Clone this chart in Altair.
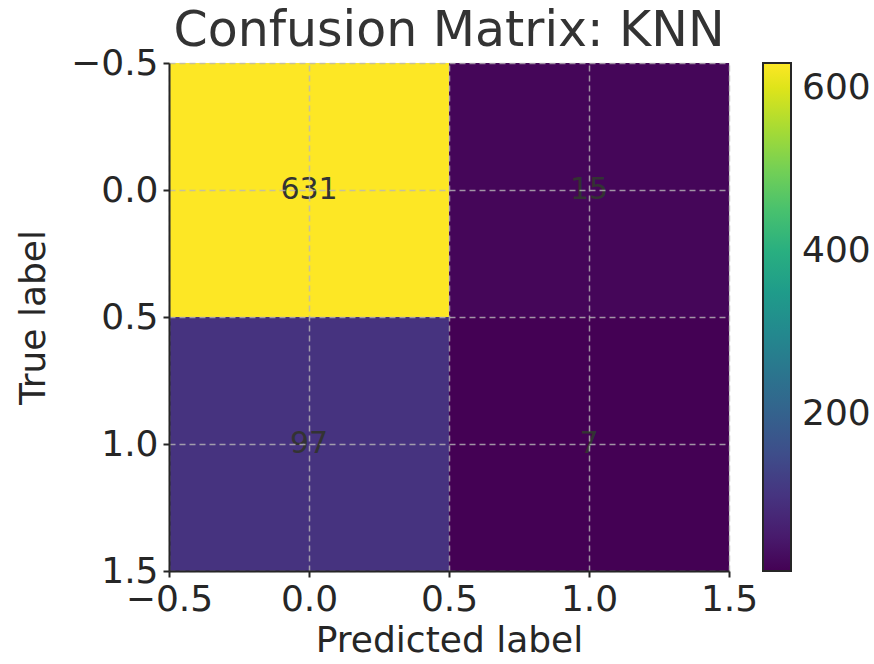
import altair as alt
import pandas as pd

# Confusion matrix values (rows = true label, columns = predicted label)
true_idx = [0, 0, 1, 1]
pred_idx = [0, 1, 0, 1]
counts = [631, 15, 97, 7]
axis_ticks = [-0.5, 0.0, 0.5, 1.0, 1.5]
cbar_ticks = [200, 400, 600]

df = pd.DataFrame({"true": true_idx, "pred": pred_idx, "count": counts})

FONT = "DejaVu Sans"
DARK = "#262626"
LBL = 36

xscale = alt.Scale(domain=[-0.5, 1.5], nice=False, zero=False)
yscale = alt.Scale(domain=[-0.5, 1.5], nice=False, zero=False, reverse=True)

axis_common = dict(
    values=axis_ticks,
    format=".1f",
    labelFontSize=LBL,
    titleFontSize=LBL,
    labelFont=FONT,
    titleFont=FONT,
    labelColor=DARK,
    titleColor=DARK,
    titleFontWeight="normal",
    tickColor=DARK,
    tickSize=6,
    tickWidth=2,
    domainColor=DARK,
    domainWidth=2,
    grid=True,
    gridColor="#b8b8b8",
    gridOpacity=0.8,
    gridWidth=1.5,
    gridDash=[6, 4],
    labelPadding=5,
    zindex=1,
)

base = alt.Chart(df).transform_calculate(
    x0="datum.pred - 0.5",
    x1="datum.pred + 0.5",
    y0="datum.true - 0.5",
    y1="datum.true + 0.5",
)

rects = base.mark_rect().encode(
    x=alt.X("x0:Q", scale=xscale,
            axis=alt.Axis(title="Predicted label", titlePadding=6, labelFlush=False, **axis_common)),
    x2="x1:Q",
    y=alt.Y("y0:Q", scale=yscale,
            axis=alt.Axis(title="True label", titlePadding=18, labelFlush=False, **axis_common)),
    y2="y1:Q",
    color=alt.Color(
        "count:Q",
        scale=alt.Scale(scheme="viridis", domain=[7, 631]),
        legend=alt.Legend(
            title=None,
            orient="right",
            offset=34,
            values=cbar_ticks,
            gradientLength=508,
            gradientThickness=28,
            gradientStrokeColor=DARK,
            gradientStrokeWidth=2,
            labelFontSize=LBL,
            labelFont=FONT,
            labelColor=DARK,
            labelOffset=11,
            labelOverlap=False,
        ),
    ),
)

labels = base.mark_text(fontSize=30, font=FONT, color="#333333").encode(
    x=alt.X("pred:Q", scale=xscale),
    y=alt.Y("true:Q", scale=yscale),
    text=alt.Text("count:Q"),
)

chart = (
    alt.layer(rects, labels)
    .properties(
        width=560,
        height=508,
        autosize=alt.AutoSizeParams(type="none"),
        padding={"left": 169, "top": 63, "right": 145, "bottom": 93},
        title=alt.TitleParams(
            "Confusion Matrix: KNN",
            fontSize=49,
            font=FONT,
            fontWeight="normal",
            color="#333333",
            anchor="middle",
            offset=-11,
        ),
    )
    .configure_view(stroke=DARK, strokeWidth=2)
    .configure(background="white")
)

chart.save("out.html", embed_options={"renderer": "svg", "actions": False})
